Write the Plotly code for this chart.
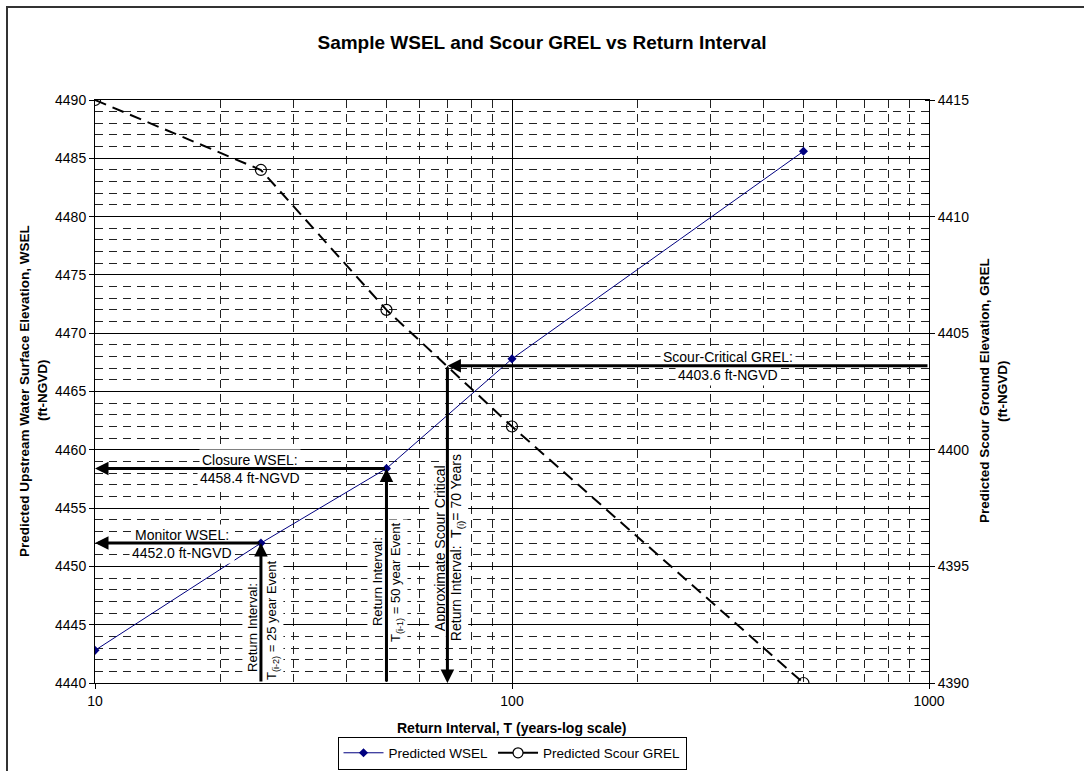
import math
import plotly.graph_objects as go

# ---- data ----
return_interval = [10, 25, 50, 100, 500]
wsel = [4442.8, 4452.0, 4458.4, 4467.8, 4485.6]
grel = [4415.0, 4412.0, 4406.0, 4401.0, 4390.0]

x_ticks = [10, 100, 1000]
x_minor = [20, 30, 40, 50, 60, 70, 80, 90, 200, 300, 400, 500, 600, 700, 800, 900]

monitor_T, monitor_wsel = 25, 4452.0
closure_T, closure_wsel = 50, 4458.4
critical_T, critical_grel = 70, 4403.6

FONT = "Arial, Liberation Sans, sans-serif"
L, R, T, B = 95, 155, 100, 88
W, H = 1084, 771
PW, PH = W - L - R, H - T - B

fig = go.Figure()
fig.add_trace(go.Scatter(
    x=return_interval, y=wsel, name="Predicted WSEL", mode="lines+markers",
    line=dict(color="#000080", width=1),
    marker=dict(symbol="diamond", size=7, color="#000080"),
))
fig.add_trace(go.Scatter(
    x=return_interval, y=grel, name="Predicted Scour GREL", mode="lines+markers",
    yaxis="y2", showlegend=False,
    line=dict(color="black", width=2, dash="12px,7px"),
    marker=dict(symbol="circle-open", size=11, color="black", line=dict(width=1.2)),
))
# legend entry (solid line sample as in the reference legend)
fig.add_trace(go.Scatter(
    x=[None], y=[None], name="Predicted Scour GREL", mode="lines+markers", yaxis="y2",
    line=dict(color="black", width=2),
    marker=dict(symbol="circle", size=10, color="white", line=dict(width=1.2, color="black")),
))

lg = math.log10
ann = []

def txt(x, y, text, yref="y", xshift=0, yshift=0, angle=0, size=14):
    ann.append(dict(x=x, y=y, xref="x", yref=yref, text=text, showarrow=False,
                    xshift=xshift, yshift=yshift, textangle=angle,
                    xanchor="center", yanchor="middle",
                    bgcolor="white", borderpad=2,
                    font=dict(family=FONT, size=size, color="black")))

# text boxes
txt(1.2086, monitor_wsel, "Monitor WSEL:", yshift=8)
txt(1.2086, monitor_wsel, "4452.0 ft-NGVD", yshift=-10)
txt(1.3717, closure_wsel, "Closure WSEL:", yshift=8)
txt(1.3717, closure_wsel, "4458.4 ft-NGVD", yshift=-10)
txt(2.518, critical_grel, "Scour-Critical GREL:", yref="y2", yshift=9)
txt(2.518, critical_grel, "4403.6 ft-NGVD", yref="y2", yshift=-9)

txt(lg(monitor_T), 4444.8, "Return Interval:", xshift=-9, angle=-90, size=13)
txt(lg(monitor_T), 4445.4, "T<sub>(i-2)</sub> = 25 year Event", xshift=11, angle=-90, size=13)
txt(lg(closure_T), 4448.7, "Return Interval:", xshift=-9, angle=-90, size=13)
txt(lg(closure_T), 4448.7, "T<sub>(i-1)</sub> = 50 year Event", xshift=10, angle=-90, size=13)
txt(lg(critical_T), 4451.6, "Approximate Scour Critical", xshift=-8, angle=-90)
txt(lg(critical_T), 4451.6, "Return Interval:  T<sub>(i)</sub>= 70 Years", xshift=9, angle=-90)

def arrow(x, y, ax, ay, yref="y"):
    ann.append(dict(x=x, y=y, ax=ax, ay=ay, xref="x", yref=yref, axref="x", ayref=yref,
                    text="", showarrow=True, arrowhead=2, arrowsize=0.9,
                    arrowwidth=3, arrowcolor="black", standoff=0, startstandoff=0))

# arrows (drawn over the text boxes)
arrow(1, monitor_wsel, lg(monitor_T), monitor_wsel)
arrow(lg(monitor_T), monitor_wsel, lg(monitor_T), 4440)
arrow(1, closure_wsel, lg(closure_T), closure_wsel)
arrow(lg(closure_T), closure_wsel, lg(closure_T), 4440)
arrow(lg(critical_T), critical_grel, 3, critical_grel, yref="y2")
arrow(lg(critical_T), 4390, lg(critical_T), critical_grel, yref="y2")

# axis titles
def px_x(p):
    return (p - L) / PW

def px_y(p):
    return (H - B - p) / PH

for xp, t in [(24, "<b>Predicted Upstream Water Surface Elevation, WSEL</b>"), (42, "<b>(ft-NGVD)</b>"),
              (984, "<b>Predicted Scour Ground Elevation, GREL</b>"), (1002, "<b>(ft-NGVD)</b>")]:
    ann.append(dict(x=px_x(xp), y=px_y(391), xref="paper", yref="paper", text=t,
                    showarrow=False, textangle=-90, xanchor="center", yanchor="middle",
                    font=dict(family=FONT, size=13.5, color="black")))
ann.append(dict(x=0.5, y=px_y(728), xref="paper", yref="paper",
                text="<b>Return Interval, T (years-log scale)</b>", showarrow=False,
                xanchor="center", yanchor="middle",
                font=dict(family=FONT, size=14, color="black")))

fig.update_layout(
    width=W, height=H,
    margin=dict(l=L, r=R, t=T, b=B, pad=0),
    paper_bgcolor="white", plot_bgcolor="white",
    font=dict(family=FONT, size=14, color="black"),
    title=dict(text="<b>Sample WSEL and Scour GREL vs Return Interval</b>",
               x=0.5, xanchor="center", y=1 - 42 / H, yanchor="middle",
               font=dict(family=FONT, size=19, color="black")),
    xaxis=dict(type="log", range=[1, 3], tickvals=x_ticks, ticktext=[str(v) for v in x_ticks],
               ticks="outside", ticklen=5, tickcolor="black",
               showline=True, linecolor="black", linewidth=1, mirror=True,
               showgrid=True, gridcolor="black", gridwidth=1, zeroline=False,
               minor=dict(tickvals=x_minor, showgrid=True, gridcolor="#222222",
                          gridwidth=1, griddash="8px,6px", ticks=""),
               tickfont=dict(family=FONT, size=14)),
    yaxis=dict(range=[4440, 4490], dtick=5, tick0=4440,
               ticks="outside", ticklen=5, tickcolor="black",
               showline=True, linecolor="black", linewidth=1,
               showgrid=True, gridcolor="black", gridwidth=1, zeroline=False,
               minor=dict(dtick=1, tick0=4440, showgrid=True, gridcolor="#222222",
                          gridwidth=1, griddash="8px,6px", ticks=""),
               tickfont=dict(family=FONT, size=14)),
    yaxis2=dict(range=[4390, 4415], dtick=5, tick0=4390, overlaying="y", side="right",
                ticks="outside", ticklen=5, tickcolor="black",
                showline=True, linecolor="black", linewidth=1,
                showgrid=False, zeroline=False,
                minor=dict(dtick=1, tick0=4390, ticks="inside", ticklen=4, tickcolor="black",
                           showgrid=False),
                tickfont=dict(family=FONT, size=14)),
    legend=dict(orientation="h", x=0.5, xanchor="center",
                yref="container", y=1 - 753 / H, yanchor="middle",
                bordercolor="black", borderwidth=1, bgcolor="white",
                font=dict(family=FONT, size=13.5), itemwidth=40, tracegroupgap=0),
    annotations=ann,
    shapes=[dict(type="rect", xref="paper", yref="paper",
                 x0=px_x(7), x1=px_x(1100), y0=px_y(7), y1=px_y(800),
                 line=dict(color="#333333", width=2), fillcolor="rgba(0,0,0,0)", layer="below")],
    showlegend=True,
)

fig.write_html("out.html", config={"displayModeBar": False},
               post_script="document.body.style.margin='0px';")
